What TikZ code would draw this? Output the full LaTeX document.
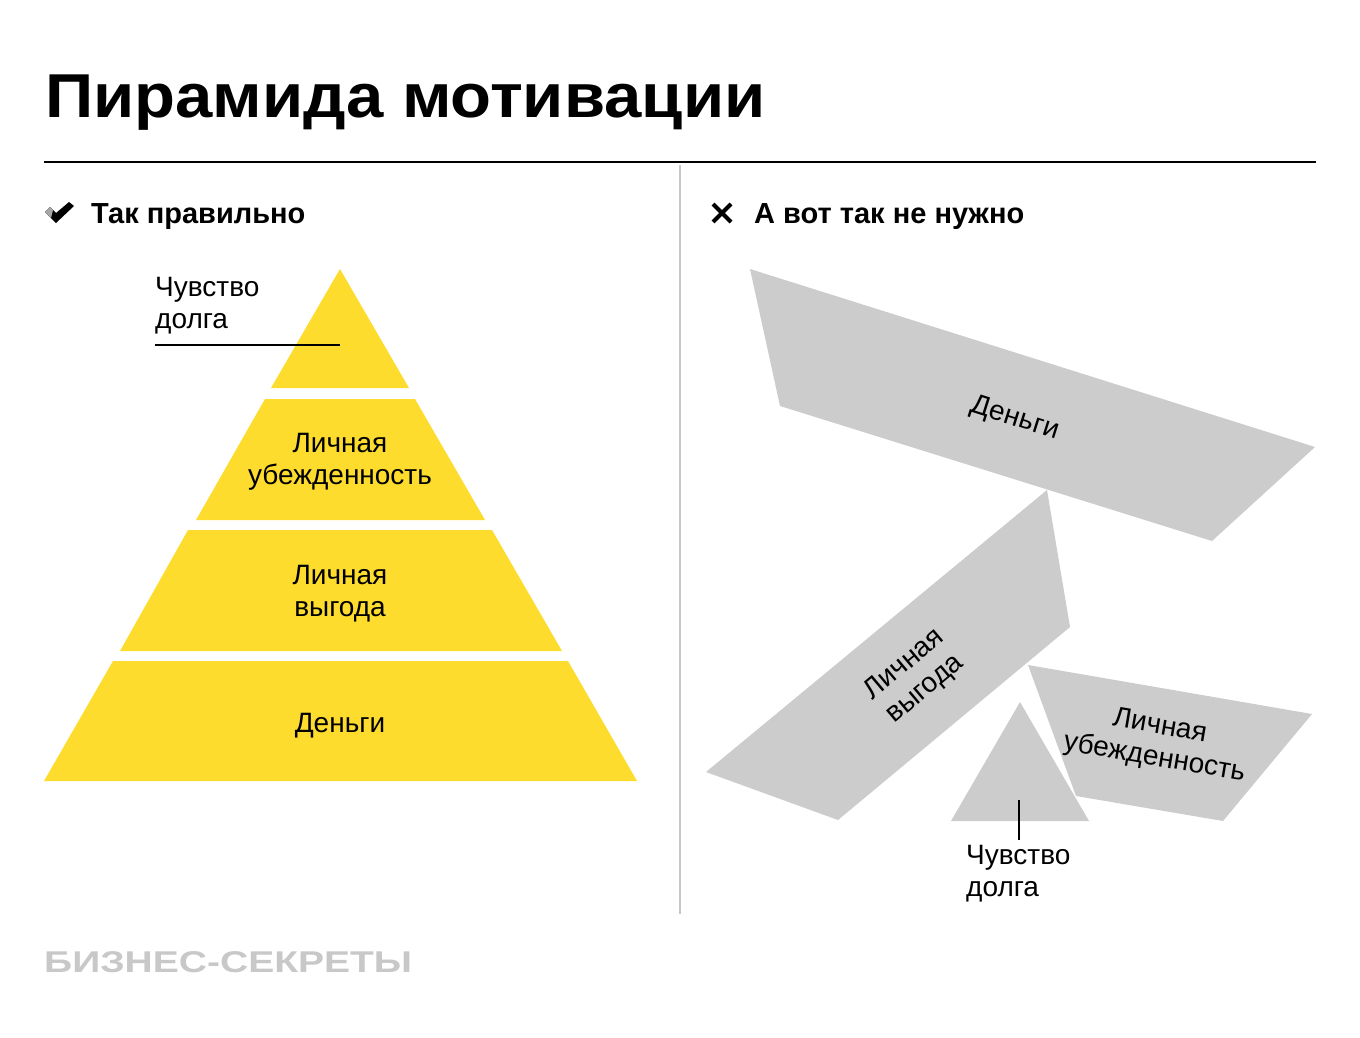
\documentclass[tikz,border=0pt]{standalone}
\usepackage{fontspec}
\setmainfont{Liberation Sans}
\usepackage{graphicx}
\definecolor{pyryellow}{RGB}{253,220,45}
\definecolor{shapegray}{RGB}{204,204,204}
\definecolor{markgray}{RGB}{200,200,200}
\definecolor{divgray}{RGB}{200,200,200}
\begin{document}
\begin{tikzpicture}[x=1pt,y=-1pt,
  lbl/.style={font=\fontsize{28}{32}\selectfont, inner sep=0pt, align=center, text=black},
  lblleft/.style={lbl, align=left},
  subhead/.style={font=\fontsize{29}{32}\selectfont\bfseries, inner sep=0pt, anchor=base west},
  yellowpart/.style={fill=pyryellow},
  graypart/.style={fill=shapegray},
  leader/.style={draw=black, line width=1.6pt}]
\useasboundingbox (0,0) rectangle (1360,1038);
\fill[white] (0,0) rectangle (1360,1038);

% title
\node[inner sep=0pt, anchor=base west] (title) at (45,118)
  {\resizebox{720pt}{\height}{\fontsize{62}{66}\selectfont\bfseries Пирамида мотивации}};
\draw[line width=2pt] (44,162) -- (1316,162);
\draw[divgray, line width=2pt] (680,165) -- (680,914);

% subheadings
\fill[black] (45,212) -- (50,207) -- (56,213) -- (69,202) -- (74,206) -- (56,223) -- cycle;
\fill[gray!70] (45,212) -- (50,207) -- (53,210) -- (51,218) -- cycle;
\node[subhead] (okhead) at (91,223) {Так правильно};
\draw[line width=4pt] (713,204) -- (731,222) (731,204) -- (713,222);
\node[subhead] (nohead) at (754,223) {А вот так не нужно};

% left pyramid
\fill[yellowpart] (340,269) -- (409,388) -- (271,388) -- cycle;
\fill[yellowpart] (265,399) -- (415,399) -- (485,520) -- (196,520) -- cycle;
\fill[yellowpart] (188,530) -- (492,530) -- (562,651) -- (120,651) -- cycle;
\fill[yellowpart] (113,661) -- (568,661) -- (637,781) -- (44,781) -- cycle;

\node[lblleft, anchor=west] (ldolg) at (155,305.5) {Чувство\\долга};
\coordinate (ldolgA) at (155,345);
\coordinate (ldolgB) at (340,345);
\draw[leader] (ldolgA) -- (ldolgB);
\node[lbl] (lubezh) at (340,461.5) {Личная\\убежденность};
\node[lbl] (lvygoda) at (340,593.5) {Личная\\выгода};
\node[lbl, anchor=base] (ldengi) at (340,732) {Деньги};

% right: scattered pieces
\fill[graypart] (750,269) -- (1315,447) -- (1212,541) -- (780,406) -- cycle;
\fill[graypart] (1047,490) -- (1070,627) -- (838,820) -- (706,772) -- cycle;
\fill[graypart] (1028,665) -- (1312,714) -- (1223,821) -- (1076,796) -- cycle;
\fill[graypart] (1020,702) -- (1089,821) -- (951,821) -- cycle;

\node[lbl, rotate=-17.5] (rdengi) at (1015,419) {Деньги};
\node[lbl, rotate=40] (rvygoda) at (915,677) {Личная\\выгода};
\node[lbl, rotate=-9.7] (rubezh) at (1157,743) {Личная\\убежденность};

\coordinate (rdolgA) at (1019,800);
\coordinate (rdolgB) at (1019,840);
\draw[leader] (rdolgA) -- (rdolgB);
\node[lblleft, anchor=west] (rdolg) at (966,873.5) {Чувство\\долга};

% watermark
\node[inner sep=0pt, anchor=base west, text=markgray] (brand) at (44,972)
  {\resizebox{368pt}{\height}{\fontsize{30}{32}\selectfont\bfseries БИЗНЕС-СЕКРЕТЫ}};
\end{tikzpicture}
\end{document}
